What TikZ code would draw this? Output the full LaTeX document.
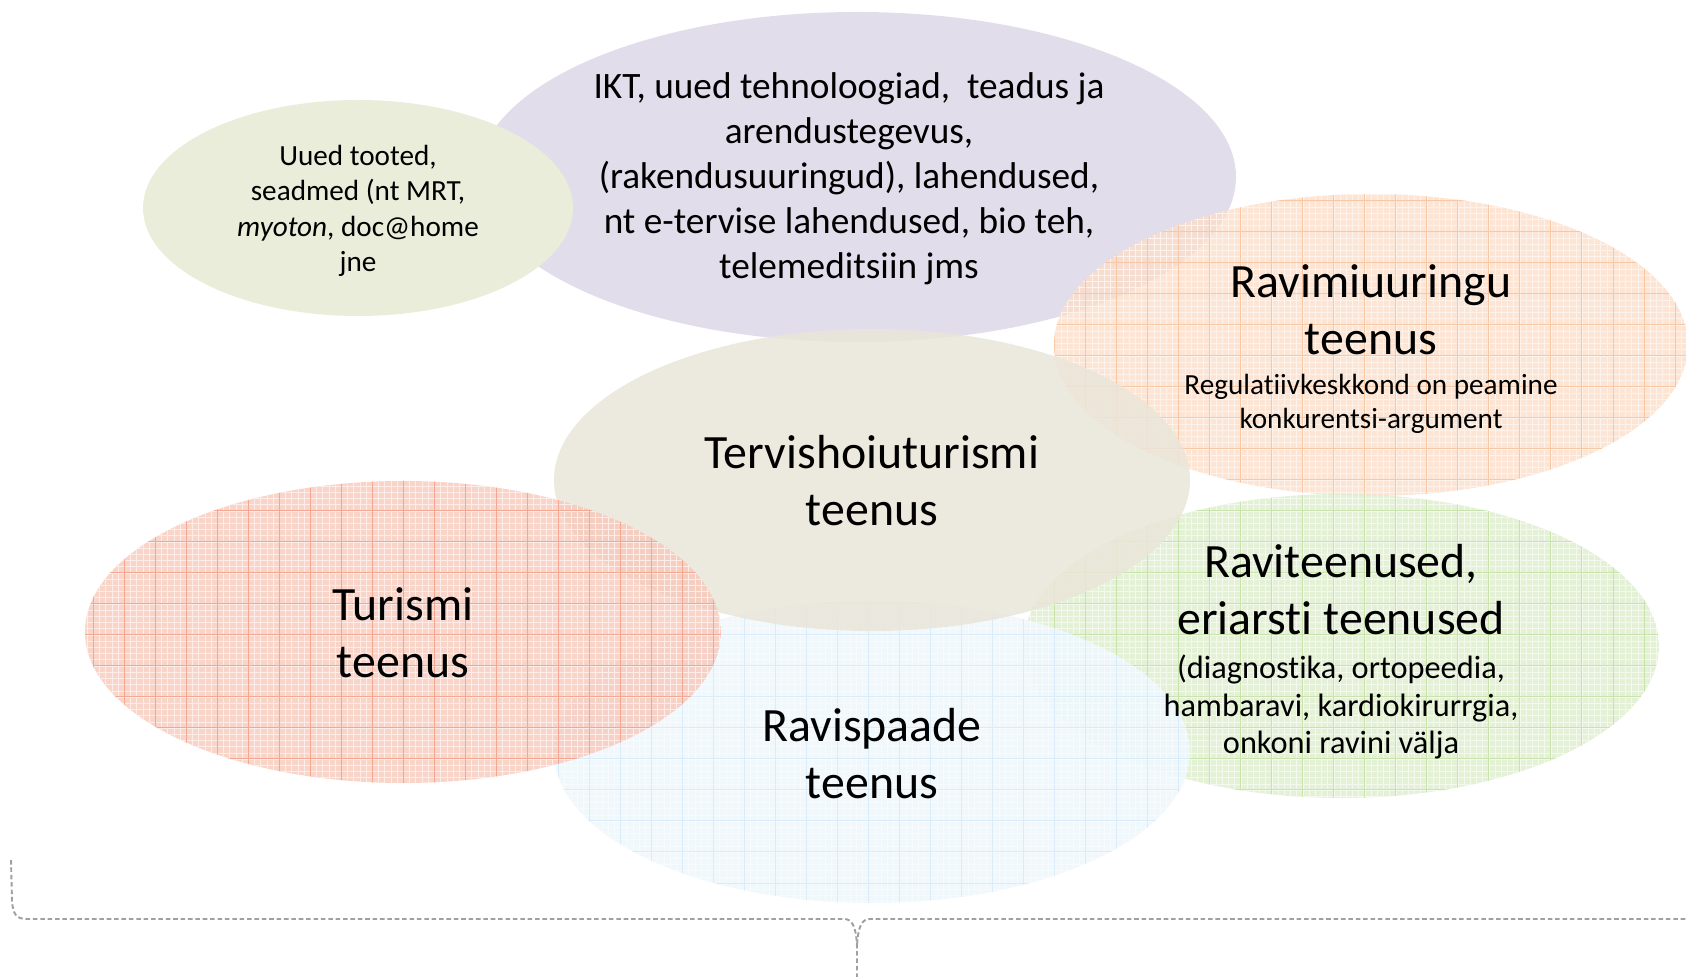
\documentclass[tikz,border=0pt]{standalone}
\usepackage{fontspec}
\setmainfont{Carlito}[Ligatures=CommonOff]
\usepackage{tikz}
\definecolor{iktfill}{RGB}{221,215,231}
\definecolor{toodefill}{RGB}{233,237,218}
\definecolor{ravimfill}{RGB}{251,223,202}
\definecolor{ravimgrid}{RGB}{248,200,165}
\definecolor{ravifill}{RGB}{223,238,204}
\definecolor{ravigrid}{RGB}{200,228,170}
\definecolor{spafill}{RGB}{239,247,252}
\definecolor{spagrid}{RGB}{218,236,249}
\definecolor{kesfill}{RGB}{233,229,217}
\definecolor{turfill}{RGB}{247,197,183}
\definecolor{turgrid}{RGB}{244,168,145}
\definecolor{bracegray}{RGB}{160,160,160}
\tikzset{
  bigtxt/.style={font=\fontsize{13.6}{16.2}\selectfont, align=center},
  subtxt/.style={font=\fontsize{8.3}{9.8}\selectfont, align=center},
  bracedash/.style={draw=bracegray, line width=0.55pt, dash pattern=on 1.3pt off 0.8pt}
}
\def\gridblob[#1](#2)(#3:#4)#5% Syntax: [fill options] (center) (x radius:y radius){grid colour}
    { \begin{scope}
        \clip (#2) ellipse ({#3} and {#4});
        \fill[#1] (#2) ellipse ({#3} and {#4});
        \draw[#5!22, line width=0.08pt, step=0.062cm] (0,0) grid (1686,976);
        \draw[#5, line width=0.25pt, step=0.31cm] (0,0) grid (1686,976);
      \end{scope} }

\begin{document}
\begin{tikzpicture}[x=0.01cm,y=0.01cm]
   \clip (0,0) rectangle (1686,976);

   % ellipses, back to front
   \fill[iktfill, fill opacity=0.85] (857,799) ellipse (379 and 165);
   \fill[toodefill] (358,768) ellipse (215 and 108);
   \gridblob[ravimfill, fill opacity=0.8](1371,631)(317:151){ravimgrid}
   \gridblob[ravifill, fill opacity=0.8](1341,330)(318:152){ravigrid}
   \gridblob[spafill, fill opacity=0.9](872,224)(318:151){spagrid}
   \fill[kesfill, fill opacity=0.85] (872,496) ellipse (318 and 151);
   \gridblob[turfill, fill opacity=0.75](403,344)(318:151){turgrid}

   % texts
   \node[font=\fontsize{10.6}{12.8}\selectfont, align=center] (ikt) at (849,797)
     {IKT, uued tehnoloogiad,\ \ teadus ja\\ arendustegevus,\\ (rakendusuuringud), lahendused,\\ nt e-tervise lahendused, bio teh,\\ telemeditsiin jms};
   \node[font=\fontsize{8.3}{10.1}\selectfont, align=center] (tooted) at (358,765)
     {Uued tooted,\\ seadmed (nt MRT,\\ \textit{myoton}, doc@home\\ jne};
   \node[bigtxt] (ravim) at (1371,666) {Ravimiuuringu\\ teenus};
   \node[subtxt] (ravimsub) at (1371,572) {Regulatiivkeskkond on peamine\\ konkurentsi-argument};
   \node[bigtxt] (kesk) at (872,495) {Tervishoiuturismi\\ teenus};
   \node[bigtxt] (turism) at (403,343) {Turismi\\ teenus};
   \node[bigtxt] (spa) at (872,222) {Ravispaade\\ teenus};
   \node[bigtxt] (ravi) at (1341,386) {Raviteenused,\\ eriarsti teenused};
   \node[font=\fontsize{9.2}{10.55}\selectfont, align=center] (ravisub) at (1341,269)
     {(diagnostika, ortopeedia,\\ hambaravi, kardiokirurrgia,\\ onkoni ravini välja};

   % brace
   \coordinate (tip) at (857,-5);
   \draw[bracedash] (11,116) -- (12,75) .. controls (13,62) and (16,57) .. (27,57)
     -- (844,57) .. controls (852,57) and (856,50) .. (857,30) -- (tip);
   \draw[bracedash] (1700,57) -- (870,57) .. controls (862,57) and (858,50) .. (857,30);
\end{tikzpicture}
\end{document}
